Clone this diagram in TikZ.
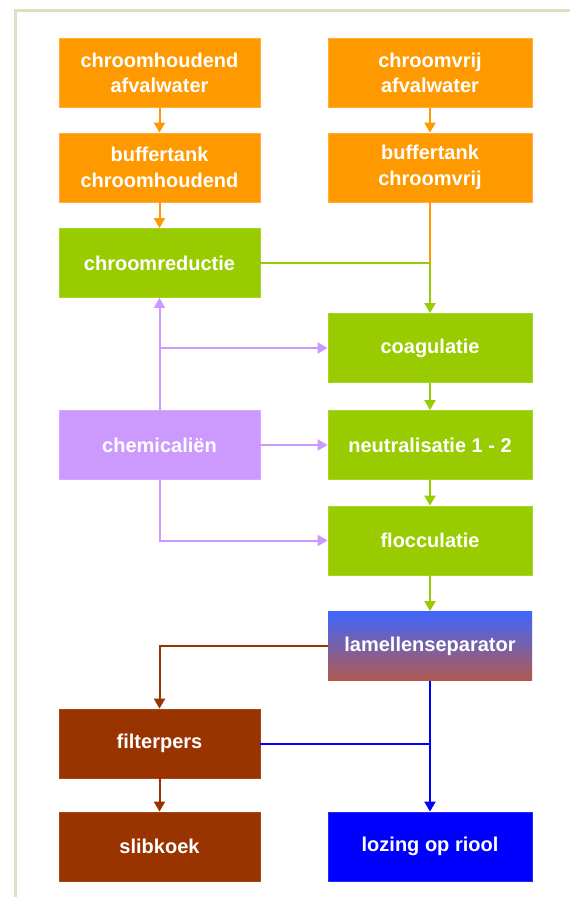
\documentclass[tikz,border=0pt]{standalone}
\usepackage{fontspec}
\setmainfont{Liberation Sans}
\usetikzlibrary{arrows.meta}
\definecolor{cOrange}{HTML}{FF9900}
\definecolor{cGreen}{HTML}{99CC00}
\definecolor{cPurple}{HTML}{CC99FF}
\definecolor{cBrown}{HTML}{993300}
\definecolor{cBlue}{HTML}{0000FF}
\definecolor{cFrame}{HTML}{D6E4C4}
\definecolor{cLamTop}{HTML}{3F66FF}
\definecolor{cLamBot}{HTML}{B25A4E}
\tikzset{
  box/.style={minimum height=69pt, inner sep=0pt, text=white, align=center,
    font=\fontsize{20}{25.5}\selectfont\bfseries, line width=0.8pt},
  lbox/.style={box, minimum width=201pt},
  rbox/.style={box, minimum width=204pt},
  obox/.style={fill=cOrange, draw=cOrange!80!white},
  gbox/.style={fill=cGreen, draw=cGreen!85!white},
  pbox/.style={fill=cPurple, draw=cPurple!85!white},
  bbox/.style={fill=cBrown, draw=cBrown!90!white},
  blbox/.style={fill=cBlue, draw=cBlue!85!white},
  conn/.style={line width=2pt, -{Triangle[length=10pt,width=11pt]}},
  plain/.style={line width=2pt},
}
\begin{document}
\begin{tikzpicture}[x=1pt,y=-1pt]
\useasboundingbox (0,0) rectangle (570,897);
\fill[white] (0,0) rectangle (570,897);
\draw[cFrame, line width=3pt] (572,10) -- (15,10) -- (15,899);

\node[lbox,obox] (cha) at (159.5,73) {chroomhoudend\\afvalwater};
\node[rbox,obox] (cva) at (430,73) {chroomvrij\\afvalwater};
\node[lbox,obox] (bch) at (159.5,167.5) {buffertank\\chroomhoudend};
\node[rbox,obox] (bcv) at (430,167.5) {buffertank\\chroomvrij};
\node[lbox,gbox] (red) at (159.5,263) {chroomreductie};
\node[rbox,gbox] (coa) at (430,348) {coagulatie};
\node[lbox,pbox] (che) at (159.5,445) {chemicaliën};
\node[rbox,gbox] (neu) at (430,445) {neutralisatie 1 - 2};
\node[rbox,gbox] (flo) at (430,540.5) {flocculatie};
\node[rbox,top color=cLamTop,bottom color=cLamBot] (lam) at (430,646) {lamellenseparator};
\node[lbox,bbox] (fil) at (159.5,743.5) {filterpers};
\node[lbox,bbox] (sli) at (159.5,846.5) {slibkoek};
\node[rbox,blbox] (loz) at (430,846.5) {lozing op riool};

\coordinate (j1) at (bcv.south |- red.east);
\coordinate (j2) at (che.north |- coa.west);
\coordinate (j3) at (lam.south |- fil.east);

% orange
\draw[conn,cOrange] (cha) -- (bch);
\draw[conn,cOrange] (cva) -- (bcv);
\draw[conn,cOrange] (bch) -- (red);
\draw[plain,cOrange] (bcv.south) -- (j1);
% green
\draw[plain,cGreen] (red.east) -- (j1);
\draw[conn,cGreen] (j1) -- (coa.north);
\draw[conn,cGreen] (coa) -- (neu);
\draw[conn,cGreen] (neu) -- (flo);
\draw[conn,cGreen] (flo) -- (lam);
% purple
\draw[conn,cPurple] (che) -- (red);
\draw[conn,cPurple] (j2) -- (coa.west);
\draw[conn,cPurple] (che) -- (neu);
\draw[conn,cPurple] (che.south) |- (flo.west);
% brown
\draw[conn,cBrown] (lam.west) -| (fil.north);
\draw[conn,cBrown] (fil) -- (sli);
% blue
\draw[conn,cBlue] (lam) -- (loz);
\draw[plain,cBlue] (fil.east) -- (j3);
\end{tikzpicture}
\end{document}
